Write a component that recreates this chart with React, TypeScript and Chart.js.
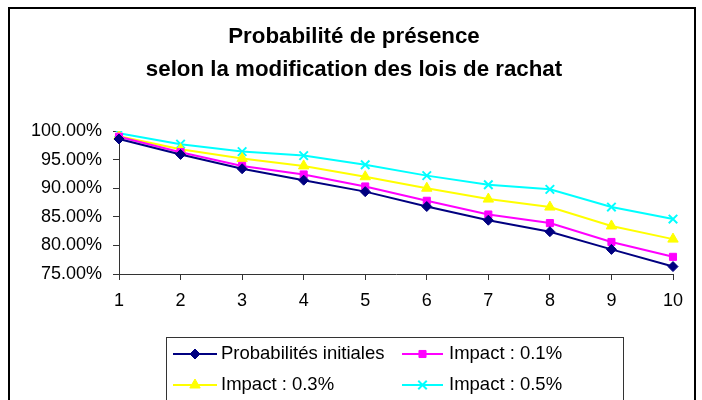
import React, { useEffect, useRef } from "react";
import { Chart, registerables } from "chart.js";
import { drawPoint } from "chart.js/helpers";

Chart.register(...registerables);

const categories = ["1", "2", "3", "4", "5", "6", "7", "8", "9", "10"];
const titleLines = ["Probabilité de présence", "selon la modification des lois de rachat"];
const seriesNames = ["Probabilités initiales", "Impact : 0.1%", "Impact : 0.3%", "Impact : 0.5%"];
const initiales = [98.6, 95.9, 93.4, 91.4, 89.4, 86.8, 84.4, 82.4, 79.3, 76.3];
const impact01 = [99.0, 96.3, 93.9, 92.4, 90.3, 87.8, 85.4, 83.9, 80.6, 78.0];
const impact03 = [99.1, 96.8, 95.2, 93.9, 92.0, 90.0, 88.1, 86.7, 83.4, 81.1];
const impact05 = [99.6, 97.7, 96.4, 95.7, 94.1, 92.2, 90.6, 89.8, 86.7, 84.6];
const yTicks = [75, 80, 85, 90, 95, 100];

const FONT = "'Liberation Sans', Arial, sans-serif";

const framePlugin = {
  id: "frame",
  beforeDraw(chart: any) {
    const ctx = chart.ctx;
    ctx.save();
    ctx.fillStyle = "#ffffff";
    ctx.fillRect(0, 0, chart.width, chart.height);
    ctx.restore();
  },
  afterDraw(chart: any) {
    const ctx = chart.ctx;
    ctx.save();
    ctx.strokeStyle = "#000000";
    ctx.lineWidth = 2;
    ctx.strokeRect(9, 8, 686, 420);
    // title
    ctx.fillStyle = "#000000";
    ctx.font = `bold 22.3px ${FONT}`;
    ctx.textAlign = "center";
    ctx.textBaseline = "middle";
    titleLines.forEach((t, i) => ctx.fillText(t, 354, 37 + i * 33));
    // legend box
    ctx.strokeStyle = "#333333";
    ctx.lineWidth = 1;
    ctx.strokeRect(166.5, 337.5, 457, 100);
    const items = [
      { x0: 173, x1: 217, tx: 221, y: 354 },
      { x0: 402, x1: 443, tx: 449, y: 354 },
      { x0: 173, x1: 217, tx: 221, y: 385 },
      { x0: 402, x1: 443, tx: 449, y: 385 },
    ];
    chart.data.datasets.forEach((ds: any, i: number) => {
      const it = items[i];
      ctx.strokeStyle = ds.borderColor;
      ctx.lineWidth = ds.borderWidth;
      ctx.beginPath();
      ctx.moveTo(it.x0, it.y);
      ctx.lineTo(it.x1, it.y);
      ctx.stroke();
      ctx.fillStyle = ds.pointBackgroundColor;
      ctx.strokeStyle = ds.pointBorderColor;
      ctx.lineWidth = ds.pointBorderWidth;
      drawPoint(ctx, { pointStyle: ds.pointStyle, radius: ds.pointRadius, rotation: 0, borderWidth: ds.pointBorderWidth }, (it.x0 + it.x1) / 2, it.y);
      ctx.fillStyle = "#000000";
      ctx.font = `18.5px ${FONT}`;
      ctx.textBaseline = "middle";
      ctx.textAlign = "left";
      ctx.fillText(ds.label, it.tx, it.y);
    });
    ctx.restore();
  },
};

export default function App() {
  const ref = useRef<HTMLCanvasElement>(null);
  useEffect(() => {
    if (!ref.current) return;
    const mk = (label: string, data: number[], color: string, style: string, radius: number, fill: string, bw: number) => ({
      label,
      data,
      borderColor: color,
      backgroundColor: fill,
      borderWidth: 2,
      pointStyle: style,
      pointRadius: radius,
      pointBackgroundColor: fill,
      pointBorderColor: color,
      pointBorderWidth: bw,
      tension: 0,
    });
    const chart = new Chart(ref.current, {
      type: "line",
      data: {
        labels: categories,
        datasets: [
          mk(seriesNames[0], initiales, "#000080", "rectRot", 5, "#000080", 1),
          mk(seriesNames[1], impact01, "#FF00FF", "rect", 5, "#FF00FF", 1),
          mk(seriesNames[2], impact03, "#FFFF00", "triangle", 6, "#FFFF00", 1),
          mk(seriesNames[3], impact05, "#00FFFF", "crossRot", 6, "#00FFFF", 2),
        ],
      },
      options: {
        responsive: false,
        animation: false,
        layout: { padding: { left: 0, right: 29, top: 131, bottom: 0 } },
        plugins: {
          legend: { display: false },
          tooltip: { enabled: false },
          title: { display: false },
        },
        scales: {
          x: {
            type: "category",
            offset: false,
            grid: { display: true, drawOnChartArea: false, drawTicks: true, tickLength: 6, color: "#333333" },
            border: { display: true, color: "#333333", width: 1 },
            ticks: { color: "#000000", font: { family: FONT, size: 18 }, padding: 10, maxRotation: 0, autoSkip: false },
            afterFit: (s: any) => { s.height = 126; },
          },
          y: {
            min: 75,
            max: 100,
            afterBuildTicks: (s: any) => { s.ticks = yTicks.map((v) => ({ value: v })); },
            grid: { display: true, drawOnChartArea: false, drawTicks: true, tickLength: 6, color: "#333333" },
            border: { display: true, color: "#333333", width: 1 },
            ticks: {
              color: "#000000",
              font: { family: FONT, size: 18 },
              padding: 11,
              callback: (v: any) => Number(v).toFixed(2) + "%",
            },
            afterFit: (s: any) => { s.width = 119; },
          },
        },
      },
      plugins: [framePlugin],
    });
    return () => chart.destroy();
  }, []);
  return (
    <div style={{ position: "absolute", left: 0, top: 0, width: 702, height: 400 }}>
      <canvas ref={ref} width={702} height={400} style={{ width: 702, height: 400, display: "block" }} />
    </div>
  );
}
